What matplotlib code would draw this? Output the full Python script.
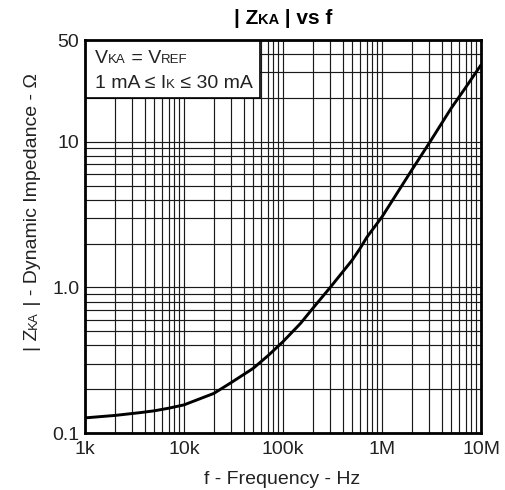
import matplotlib
matplotlib.use("Agg")
import matplotlib.pyplot as plt
from matplotlib.ticker import FixedLocator, NullFormatter, LogLocator
from matplotlib.patches import Rectangle

plt.rcParams['font.family'] = ['Liberation Sans', 'DejaVu Sans']

# Data
freq_hz = [1e3, 2e3, 3.6e3, 5e3, 7e3, 1e4, 2e4, 3e4, 5e4, 7e4, 1e5, 1.5e5,
           2e5, 3e5, 5e5, 6e5, 7e5, 1e6, 2e6, 3e6, 5e6, 7e6, 1e7]
z_ohm = [0.127, 0.132, 0.138, 0.142, 0.148, 0.156, 0.187, 0.222, 0.278, 0.338, 0.424, 0.565,
         0.718, 1.0, 1.54, 1.85, 2.2, 3.05, 6.4, 9.8, 17.0, 23.6, 33.7]

x_ticks = [1e3, 1e4, 1e5, 1e6, 1e7]
x_ticklabels = ["1k", "10k", "100k", "1M", "10M"]
y_ticks = [0.1, 1.0, 10, 50]
y_ticklabels = ["0.1", "1.0", "10", "50"]

W, H = 505, 490
fig = plt.figure(figsize=(W / 100, H / 100), dpi=100)
L, R, T, B = 85, 481, 40, 433
ax = fig.add_axes([L / W, 1 - B / H, (R - L) / W, (B - T) / H])

ax.set_xscale('log')
ax.set_yscale('log')
ax.set_xlim(1e3, 1e7)
ax.set_ylim(0.1, 50)

ax.plot(freq_hz, z_ohm, color='black', lw=2.1, zorder=5,
        solid_capstyle='round', solid_joinstyle='round')

ax.xaxis.set_major_locator(FixedLocator(x_ticks))
ax.set_xticklabels(x_ticklabels)
ax.xaxis.set_minor_locator(LogLocator(base=10, subs=range(2, 10)))
ax.xaxis.set_minor_formatter(NullFormatter())
ax.yaxis.set_major_locator(FixedLocator(y_ticks))
ax.set_yticklabels(y_ticklabels)
ax.yaxis.set_minor_locator(LogLocator(base=10, subs=range(2, 10)))
ax.yaxis.set_minor_formatter(NullFormatter())

ax.grid(True, which='both', color='#1a1a1a', lw=0.85)
ax.tick_params(which='both', direction='in', length=0, labelsize=14, colors='#222222')
ax.tick_params(axis='x', pad=6)
ax.tick_params(axis='y', pad=4)
for sp in ax.spines.values():
    sp.set_linewidth(2.0)
    sp.set_zorder(6)

# White condition box in upper-left
bx = (260 - L) / (R - L)
by = (B - 98) / (B - T)
ax.add_patch(Rectangle((0, by), bx, 1 - by, transform=ax.transAxes,
                       facecolor='white', edgecolor='black', lw=1.2, zorder=4))

fig.canvas.draw()
rend = fig.canvas.get_renderer()


def piece_width(s, size, weight):
    t1 = fig.text(0, 0, "x" + s + "x", fontsize=size, fontweight=weight)
    t2 = fig.text(0, 0, "xx", fontsize=size, fontweight=weight)
    w = t1.get_window_extent(rend).width - t2.get_window_extent(rend).width
    t1.remove(); t2.remove()
    return w


def rich(x, y, pieces, rotation=0, align='center', color='#222222'):
    # x, y in pixels from top-left; baseline position
    widths = [piece_width(s, sz, wt) for s, sz, wt in pieces]
    total = sum(widths)
    start = -total / 2 if align == 'center' else 0
    cum = start
    for (s, sz, wt), w in zip(pieces, widths):
        if rotation == 0:
            px, py = x + cum, y
        else:
            px, py = x, y - cum
        fig.text(px / W, 1 - py / H, s, fontsize=sz, fontweight=wt,
                 rotation=rotation, rotation_mode='anchor',
                 ha='left', va='baseline', color=color)
        cum += w


BIG, SMALL = 14, 9.5
# Title
rich(283, 24, [("| Z", 15, 'bold'), ("KA", 10.5, 'bold'), (" | vs f", 15, 'bold')], color='black')
# Box text
rich(95, 63, [("V", BIG, 'normal'), ("KA", SMALL, 'normal'), (" = V", BIG, 'normal'),
              ("REF", SMALL, 'normal')], align='left')
rich(95, 88, [("1 mA \u2264 I", BIG, 'normal'), ("K", SMALL, 'normal'),
              (" \u2264 30 mA", BIG, 'normal')], align='left')
# X label
rich(282, 484, [("f - Frequency - Hz", BIG, 'normal')])
# Y label (rotated)
rich(37, 212, [("| Z", BIG, 'normal'), ("KA", SMALL, 'normal'),
               (" | - Dynamic Impedance - \u03a9", BIG, 'normal')], rotation=90)

fig.savefig("out.png", dpi=100)
